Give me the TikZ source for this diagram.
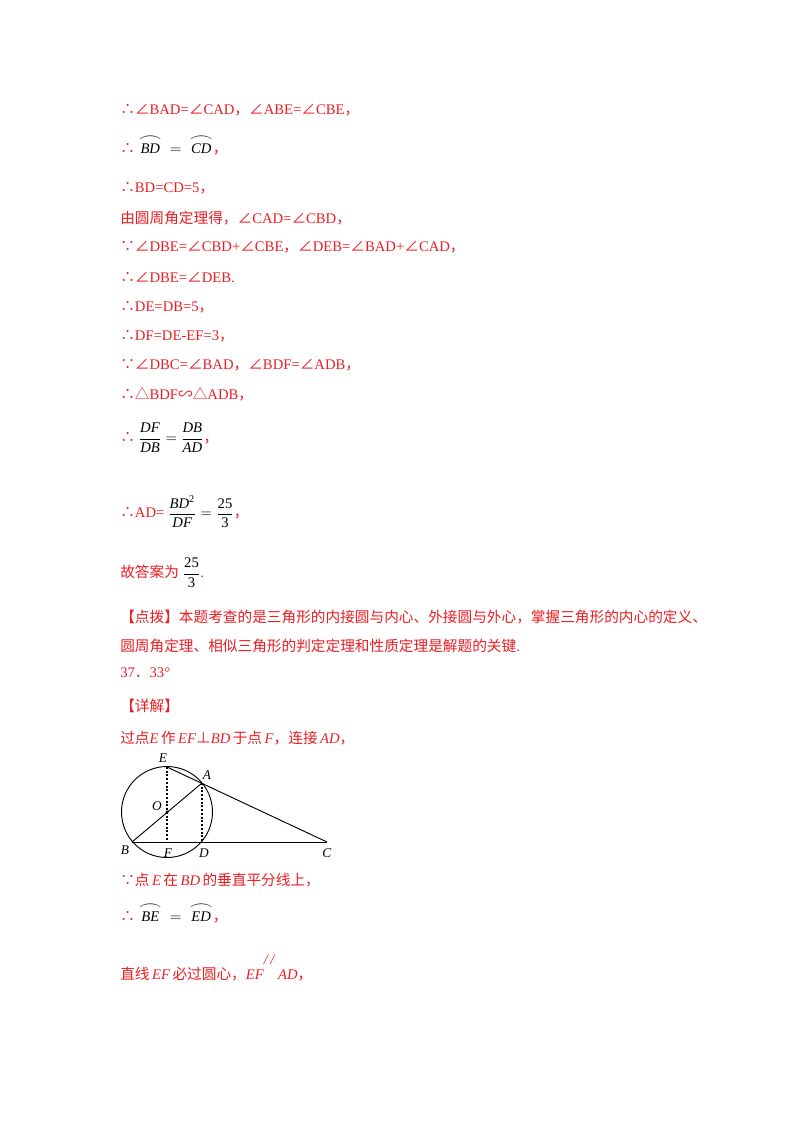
\documentclass[tikz,border=0pt]{standalone}
\usepackage{amsmath,graphicx}
\usepackage{fontspec}
\setmainfont{Liberation Serif}
\newfontfamily\cjk{Noto Sans CJK SC}
\newcommand{\C}[1]{{\cjk #1}}
\newcommand{\mi}[1]{\text{\textit{#1}}}
\newcommand{\mr}[1]{\text{\textup{#1}}}
\newcommand{\arcx}[1]{\overset{\scalebox{1.6}[1]{$\frown$}}{\mi{#1}}}
\definecolor{rd}{RGB}{235,30,35}
\begin{document}
\begin{tikzpicture}[x=0.75pt,y=-0.75pt,
  t/.style={anchor=west,inner sep=0pt,text=rd,font=\fontsize{11}{13}\selectfont},
  lab/.style={inner sep=0pt,font=\fontsize{10}{12}\selectfont},
  gl/.style={line width=0.7pt},
  dl/.style={line width=0.8pt,dash pattern=on 1.5pt off 1.3pt}]
\useasboundingbox (0,0) rectangle (800,1132);
\fill[white] (0,0) rectangle (800,1132);
\node[t] (l1) at (120,110) {\C{∴∠}BAD=\C{∠}CAD\C{，∠}ABE=\C{∠}CBE\C{，}};
\node[t] (l2) at (120,145) {\C{∴} \textcolor{black}{$\arcx{BD}\;=\;\arcx{CD}$}\C{，}};
\node[t] (l3) at (120,188) {\C{∴}BD=CD=5\C{，}};
\node[t] (l4) at (120,218) {\C{由圆周角定理得，∠}CAD=\C{∠}CBD\C{，}};
\node[t] (l5) at (120,247) {\C{∵∠}DBE=\C{∠}CBD+\C{∠}CBE\C{，∠}DEB=\C{∠}BAD+\C{∠}CAD\C{，}};
\node[t] (l6) at (120,278) {\C{∴∠}DBE=\C{∠}DEB.};
\node[t] (l7) at (120,307) {\C{∴}DE=DB=5\C{，}};
\node[t] (l8) at (120,336) {\C{∴}DF=DE-EF=3\C{，}};
\node[t] (l9) at (120,365) {\C{∵∠}DBC=\C{∠}BAD\C{，∠}BDF=\C{∠}ADB\C{，}};
\node[t] (l10) at (120,394) {\C{∴△}BDF\C{∽△}ADB\C{，}};
\node[t] (l11) at (120,438) {\C{∴} \textcolor{black}{$\dfrac{\mi{DF}}{\mi{DB}}=\dfrac{\mi{DB}}{\mi{AD}}$}\C{，}};
\node[t] (l12) at (120,512) {\C{∴}AD= \textcolor{black}{$\dfrac{\mi{BD}^{\mr{2}}}{\mi{DF}}=\dfrac{\mr{25}}{\mr{3}}$}\C{，}};
\node[t] (l13) at (120,573) {\C{故答案为} \textcolor{black}{$\dfrac{\mr{25}}{\mr{3}}$}.};
\node[t] (l14) at (120,617) {\C{【点拨】本题考查的是三角形的内接圆与内心、外接圆与外心，掌握三角形的内心的定义、}};
\node[t] (l15) at (120,646) {\C{圆周角定理、相似三角形的判定定理和性质定理是解题的关键}.};
\node[t] (l16) at (120,673) {37\C{．}33°};
\node[t] (l17) at (120,706) {\C{【详解】}};
\node[t] (l18) at (120,738) {\C{过点}\textit{E}\,\C{作}\,\textit{EF}\C{⊥}\textit{BD}\,\C{于点}\,\textit{F}\C{，连接}\,\textit{AD}\C{，}};
\node[t] (l19) at (120,880) {\C{∵点}\,\textit{E}\,\C{在}\,\textit{BD}\,\C{的垂直平分线上，}};
\node[t] (l20) at (120,913) {\C{∴} \textcolor{black}{$\arcx{BE}\;=\;\arcx{ED}$}\C{，}};
\node[t] (l21) at (120,968) {\C{直线}\,\textit{EF}\,\C{必过圆心，}\textit{EF}\raisebox{2.2ex}{\textit{/\,/}}\,\textit{AD}\C{，}};
\coordinate (O) at (167,812);
\coordinate (E) at (167,767);
\coordinate (A) at (202,783);
\coordinate (B) at (132,842);
\coordinate (D) at (202,842);
\coordinate (F) at (167,842);
\coordinate (C) at (327,842);
\draw[gl] (O) circle (45.5);
\draw[gl] (B) -- (A);
\draw[gl] (E) -- (C);
\draw[gl] (B) -- (C);
\draw[dl] (E) -- (F);
\draw[dl] (A) -- (D);
\fill (O) circle (1.6);
\node[lab] (lE) at (163,758) {\textit{E}};
\node[lab] (lA) at (207,775) {\textit{A}};
\node[lab] (lO) at (157,806) {\textit{O}};
\node[lab] (lB) at (125,850) {\textit{B}};
\node[lab] (lF) at (168,853) {\textit{F}};
\node[lab] (lD) at (204,853) {\textit{D}};
\node[lab] (lC) at (327,853) {\textit{C}};
\end{tikzpicture}
\end{document}
